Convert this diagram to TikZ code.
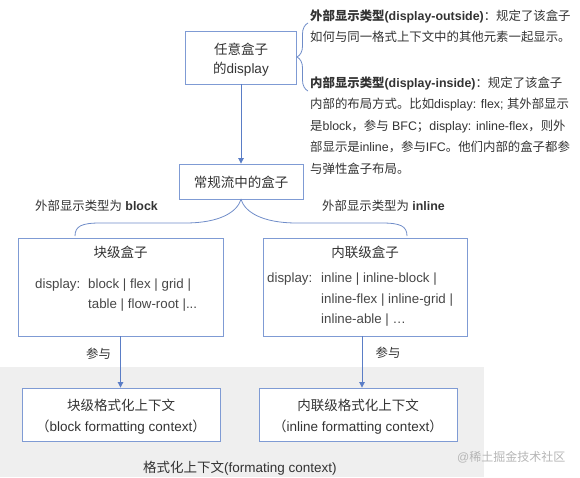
\documentclass[tikz,border=0pt]{standalone}
\usepackage{fontspec}
\setmainfont{Liberation Sans}
\newfontfamily\cjkfam{Noto Sans CJK SC}
\usetikzlibrary{arrows.meta,decorations.pathreplacing}
\XeTeXinterchartokenstate=1
\newXeTeXintercharclass\CJKcls
\newcount\cjkcnt
\def\setcjkrange#1#2{\cjkcnt=#1\relax
  \loop\XeTeXcharclass\cjkcnt=\CJKcls\relax
  \advance\cjkcnt by 1\relax
  \ifnum\cjkcnt<#2\relax\repeat}
\setcjkrange{"4E00}{"A000}
\setcjkrange{"3000}{"3040}
\setcjkrange{"FF00}{"FFF0}
\XeTeXinterchartoks 0 \CJKcls = {\cjkfam}
\XeTeXinterchartoks 4095 \CJKcls = {\cjkfam}
\XeTeXinterchartoks \CJKcls 0 = {\rmfamily}
\XeTeXinterchartoks \CJKcls 4095 = {\rmfamily}
\definecolor{boxc}{HTML}{7F9BD4}
\definecolor{arrc}{HTML}{5A7DC6}
\definecolor{brcc}{HTML}{6F8CC8}
\definecolor{txtc}{HTML}{333333}
\definecolor{dimc}{HTML}{474747}
\definecolor{bgc}{HTML}{EFEFEF}
\definecolor{wmc}{HTML}{B5B5B5}
\begin{document}
\begin{tikzpicture}[x=1pt,y=-1pt,
  txt/.style={inner sep=0pt, text=txtc, font=\fontsize{12.4}{15}\selectfont},
  ttl/.style={inner sep=0pt, text=txtc, font=\fontsize{13.5}{16}\selectfont},
  bod/.style={inner sep=0pt, text=dimc, font=\fontsize{13.3}{16}\selectfont},
  boxn/.style={draw=boxc, line width=0.9pt, fill=white, inner sep=0pt},
  arr/.style={draw=arrc, line width=0.9pt, -{Triangle[width=5.5pt,length=5.5pt]}},
  brc/.style={draw=brcc, line width=0.8pt}]
\useasboundingbox (0,0) rectangle (580,477);
\fill[bgc] (0,367) rectangle (484,477);

% top box
\node[boxn, minimum width=111pt, minimum height=53pt] (any) at (241,57.5) {};
\node[ttl, anchor=base] (anyt1) at (241,54.5) {任意盒子};
\node[ttl, anchor=base] (anyt2) at (241,73) {的display};

% brace and explanation
\draw[brc, decorate, decoration={brace, amplitude=11pt}] (308,91) -- (308,23);
\node[txt, anchor=base west] (o1) at (310,20) {\textbf{外部显示类型(display-outside)}：规定了该盒子};
\node[txt, anchor=base west] (o2) at (310,41.5) {如何与同一格式上下文中的其他元素一起显示。};
\node[txt, anchor=base west] (i1) at (310,87) {\textbf{内部显示类型(display-inside)}：规定了该盒子};
\node[txt, anchor=base west] (i2) at (310,108.5) {内部的布局方式。比如display: flex; 其外部显示};
\node[txt, anchor=base west] (i3) at (310,130) {是block，参与 BFC；display: inline-flex，则外};
\node[txt, anchor=base west] (i4) at (310,151.5) {部显示是inline，参与IFC。他们内部的盒子都参};
\node[txt, anchor=base west] (i5) at (310,173) {与弹性盒子布局。};

% regular flow box
\node[boxn, minimum width=124pt, minimum height=35pt] (reg) at (241,181.5) {};
\node[ttl, anchor=base] (regt) at (241,187) {常规流中的盒子};
\draw[arr] (any.south) -- (reg.north);

% big brace
\draw[brc] (75,236) .. controls (75,226) and (82,223) .. (100,223) -- (185,223)
  .. controls (220,223) and (237,212) .. (reg.south)
  .. controls (245,212) and (262,223) .. (297,223) -- (382,223)
  .. controls (400,223) and (407,226) .. (407,236);
\node[txt, anchor=base west] (lb) at (35,210) {外部显示类型为 \textbf{block}};
\node[txt, anchor=base west] (lr) at (322,210) {外部显示类型为 \textbf{inline}};

% block box
\node[boxn, minimum width=205pt, minimum height=98pt] (blk) at (120.5,287) {};
\node[ttl, anchor=base] (blkt) at (120.5,257) {块级盒子};
\node[bod, anchor=base west] (blkd) at (35,288) {display:};
\node[bod, anchor=base west] (blkv1) at (88,288) {block | flex | grid |};
\node[bod, anchor=base west] (blkv2) at (88,308.5) {table | flow-root |...};

% inline box
\node[boxn, minimum width=204pt, minimum height=98pt] (inl) at (365,287) {};
\node[ttl, anchor=base] (inlt) at (365,257) {内联级盒子};
\node[bod, anchor=base west] (inld) at (267,282.5) {display:};
\node[bod, anchor=base west] (inlv1) at (321,282.5) {inline | inline-block |};
\node[bod, anchor=base west] (inlv2) at (321,303) {inline-flex | inline-grid |};
\node[bod, anchor=base west] (inlv3) at (321,323.5) {inline-able | …};

% formatting context boxes
\node[boxn, minimum width=198pt, minimum height=53pt] (bfc) at (121,414.5) {};
\node[ttl, anchor=base] (bfct1) at (121,410) {块级格式化上下文};
\node[ttl, anchor=base] (bfct2) at (121,431.5) {（block formatting context）};
\node[boxn, minimum width=198pt, minimum height=53pt] (ifc) at (358,414.5) {};
\node[ttl, anchor=base] (ifct1) at (358,410) {内联级格式化上下文};
\node[ttl, anchor=base] (ifct2) at (358,431.5) {（inline formatting context）};

\draw[arr] (blk.south) -- (blk.south |- bfc.north);
\coordinate (istart) at ([xshift=-3pt]inl.south);
\draw[arr] (istart) -- (istart |- ifc.north);
\node[txt, anchor=base] (p1) at (98.5,358) {参与};
\node[txt, anchor=base] (p2) at (388,357) {参与};

\node[ttl, anchor=base west] (fc) at (143,472) {格式化上下文(formating context)};
\node[inner sep=0pt, text=wmc, font=\fontsize{12}{14}\selectfont, anchor=base west] (wm) at (457,461) {@稀土掘金技术社区};
\end{tikzpicture}
\end{document}
